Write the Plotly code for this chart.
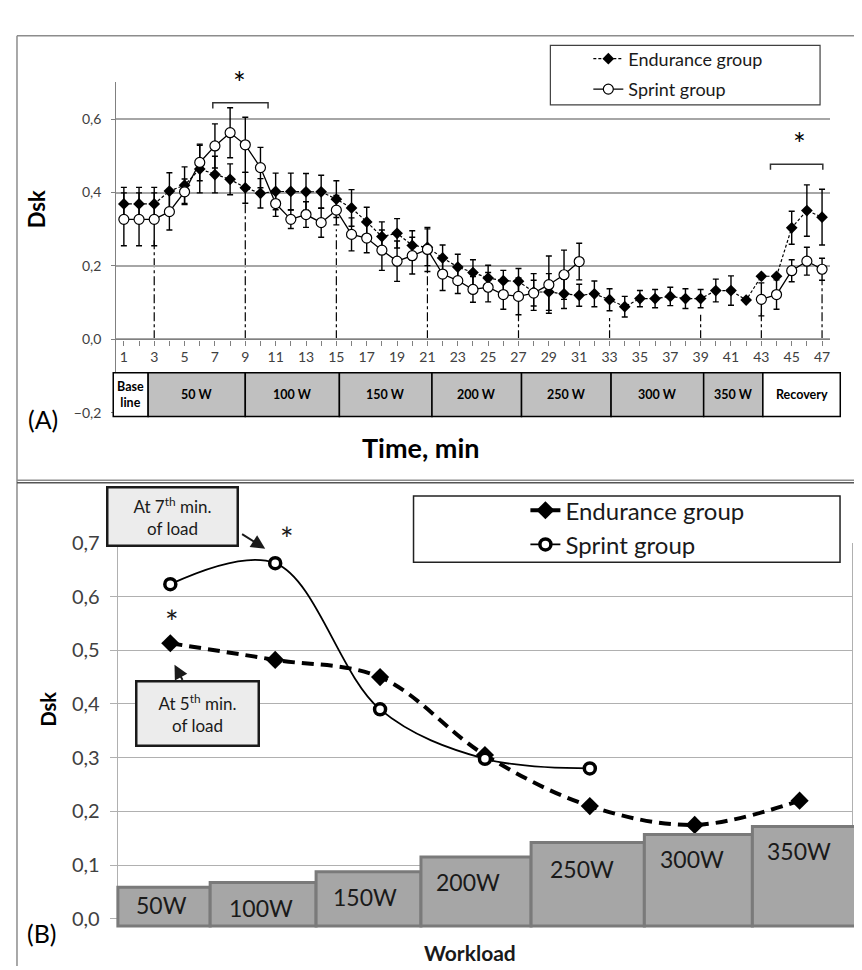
import plotly.graph_objects as go

W, H = 862, 970
FONT = "Lato, 'Open Sans', sans-serif"

# ---------------- Panel A data ----------------
minutes = list(range(1, 48))
endurance_A = [0.369, 0.369, 0.369, 0.404, 0.420, 0.464, 0.449, 0.436, 0.413, 0.398,
               0.403, 0.403, 0.402, 0.402, 0.382, 0.358, 0.320, 0.280, 0.289, 0.256,
               0.251, 0.222, 0.197, 0.182, 0.167, 0.160, 0.158, 0.129, 0.129, 0.124,
               0.120, 0.124, 0.108, 0.089, 0.111, 0.111, 0.117, 0.111, 0.111, 0.133,
               0.133, 0.107, 0.172, 0.172, 0.304, 0.351, 0.333]
endurance_A_err = [0.045, 0.045, 0.045, 0.050, 0.050, 0.065, 0.050, 0.042, 0.042, 0.040,
                   0.050, 0.050, 0.050, 0.045, 0.050, 0.050, 0.040, 0.040, 0.040, 0.040,
                   0.050, 0.035, 0.035, 0.035, 0.035, 0.028, 0.035, 0.050, 0.050, 0.040,
                   0.030, 0.035, 0.030, 0.028, 0.022, 0.025, 0.025, 0.027, 0.025, 0.031,
                   0.040, 0.0, 0.0, 0.0, 0.045, 0.070, 0.076]
sprint_A = [0.327, 0.327, 0.327, 0.348, 0.402, 0.482, 0.527, 0.563, 0.530, 0.468,
            0.370, 0.327, 0.340, 0.318, 0.352, 0.286, 0.276, 0.243, 0.213, 0.228,
            0.245, 0.178, 0.160, 0.136, 0.142, 0.122, 0.117, 0.126, 0.149, 0.176,
            0.212, None, None, None, None, None, None, None, None, None,
            None, None, 0.109, 0.122, 0.187, 0.213, 0.191]
sprint_A_err = [0.072, 0.072, 0.072, 0.050, 0.035, 0.050, 0.060, 0.068, 0.075, 0.055,
                0.035, 0.025, 0.035, 0.040, 0.040, 0.045, 0.040, 0.055, 0.055, 0.050,
                0.060, 0.045, 0.035, 0.035, 0.040, 0.040, 0.050, 0.035, 0.078, 0.067,
                0.050, None, None, None, None, None, None, None, None, None,
                None, None, 0.045, 0.040, 0.030, 0.038, 0.030]
guide_minutes = [3, 9, 15, 21, 27, 33, 39, 43, 47]
guide_tops = [0.270, 0.373, 0.300, 0.187, 0.071, 0.058, 0.067, 0.071, 0.160]
stage_labels_A = ["Base<br>line", "50 W", "100 W", "150 W", "200 W", "250 W",
                  "300 W", "350 W", "Recovery"]
stage_edges_A = [0.3, 2.6, 9.0, 15.2, 21.3, 27.2, 33.1, 39.2, 43.1, 48.2]
stage_fill_A = ["white", "#c0c0c0", "#c0c0c0", "#c0c0c0", "#c0c0c0", "#c0c0c0",
                "#c0c0c0", "#c0c0c0", "white"]
yticks_A = [-0.2, 0.0, 0.2, 0.4, 0.6]

# ---------------- Panel B data ----------------
workloads = ["50W", "100W", "150W", "200W", "250W", "300W", "350W"]
endurance_B = [0.513, 0.482, 0.450, 0.305, 0.210, 0.175, 0.220]
sprint_B = [0.623, 0.662, 0.390, 0.298, 0.280]
load_bar_tops = [0.059, 0.068, 0.088, 0.115, 0.142, 0.157, 0.172]
load_bar_edges = [-0.5, 0.38, 1.39, 2.39, 3.44, 4.52, 5.55, 6.62]
load_label_pos = [(-0.08, 0.025), (0.86, 0.020), (1.86, 0.040), (2.84, 0.068),
                  (3.93, 0.092), (4.97, 0.112), (5.99, 0.126)]
yticks_B = [0.0, 0.1, 0.2, 0.3, 0.4, 0.5, 0.6, 0.7]

# ---------------- geometry ----------------
def px(x):
    return x / W

def py(y):
    return 1 - y / H

XA = [0.5, 47.5]
YA = [-0.2, 0.7]
domA_x = [px(108.4), px(822.6)]
domA_y = [py(401.7), py(63)]
XB = [-0.5, 6.5]
YB = [0.0, 0.7]
domB_x = [px(110), px(845)]
domB_y = [py(920.7), py(535)]
axisA_pos = domA_y[0] + (0 - YA[0]) / (YA[1] - YA[0]) * (domA_y[1] - domA_y[0])

def xa_dom(v):
    return (v - XA[0]) / (XA[1] - XA[0])

def ya_dom(v):
    return (v - YA[0]) / (YA[1] - YA[0])

def xb_dom(v):
    return (v - XB[0]) / (XB[1] - XB[0])

def yb_dom(v):
    return (v - YB[0]) / (YB[1] - YB[0])

fig = go.Figure()

# ---------------- Panel A traces ----------------
fig.add_trace(go.Scatter(
    x=minutes, y=endurance_A, name="Endurance group", mode="lines+markers",
    xaxis="x", yaxis="y", legend="legend", legendgroup="eA",
    line=dict(color="black", width=1.2, dash="3px,2px"),
    marker=dict(symbol="diamond", size=9, color="black"),
    error_y=dict(type="data", array=endurance_A_err, color="black", thickness=1.4, width=3),
))
fig.add_trace(go.Scatter(
    x=minutes, y=sprint_A, name="Sprint group", mode="lines+markers",
    xaxis="x", yaxis="y", legend="legend", legendgroup="sA", connectgaps=False,
    line=dict(color="black", width=1.3),
    marker=dict(symbol="circle", size=10, color="white", line=dict(color="black", width=1.2)),
    error_y=dict(type="data", array=sprint_A_err, color="black", thickness=1.4, width=3),
))

# ---------------- Panel B traces ----------------
idx_B = list(range(len(workloads)))
fig.add_trace(go.Scatter(
    x=idx_B, y=endurance_B, name="Endurance group", mode="lines+markers",
    xaxis="x2", yaxis="y2", legend="legend2", legendgroup="eB",
    line=dict(color="black", width=4, dash="12px,7px", shape="spline", smoothing=1.0),
    marker=dict(symbol="diamond", size=14, color="black"),
))
fig.add_trace(go.Scatter(
    x=idx_B[:len(sprint_B)], y=sprint_B, name="Sprint group", mode="lines+markers",
    xaxis="x2", yaxis="y2", legend="legend2", legendgroup="sB",
    line=dict(color="black", width=1.8, shape="spline", smoothing=1.0),
    marker=dict(symbol="circle", size=11, color="white", line=dict(color="black", width=3.5)),
))

shapes = []
annotations = []


def note(**kw):
    kw.setdefault("xanchor", "center")
    kw.setdefault("yanchor", "middle")
    kw.setdefault("showarrow", False)
    annotations.append(kw)


# guide lines (dash-dot) in panel A
for gx, gt in zip(guide_minutes, guide_tops):
    shapes.append(dict(type="line", xref="x", yref="y", x0=gx, x1=gx, y0=0, y1=gt,
                       line=dict(color="black", width=1.2, dash="dashdot"), layer="below"))

# stage boxes in panel A
for i, lab in enumerate(stage_labels_A):
    x0, x1 = stage_edges_A[i], stage_edges_A[i + 1]
    shapes.append(dict(type="rect", xref="x domain", yref="y domain",
                       x0=xa_dom(x0), x1=xa_dom(x1), y0=ya_dom(-0.21), y1=ya_dom(-0.091),
                       fillcolor=stage_fill_A[i], line=dict(color="black", width=1.5)))
    note(xref="x domain", yref="y domain", x=xa_dom((x0 + x1) / 2), y=ya_dom(-0.15),
         text="<b>%s</b>" % lab, font=dict(family=FONT, size=12.5, color="black"))

# significance brackets panel A
shapes.append(dict(type="path", xref="x", yref="y",
                   path="M 6.86,0.629 L 6.86,0.645 L 10.5,0.645 L 10.5,0.629",
                   line=dict(color="#333333", width=1.5)))
shapes.append(dict(type="path", xref="x", yref="y",
                   path="M 43.6,0.462 L 43.6,0.477 L 47.05,0.477 L 47.05,0.462",
                   line=dict(color="#333333", width=1.5)))
note(xref="x domain", yref="y domain", x=xa_dom(8.6), y=ya_dom(0.700), text="*",
     font=dict(family=FONT, size=30, color="black"))
note(xref="x domain", yref="y domain", x=xa_dom(45.5), y=ya_dom(0.536), text="*",
     font=dict(family=FONT, size=30, color="black"))

# legend frame panel A
shapes.append(dict(type="rect", xref="paper", yref="paper", x0=px(543), x1=px(813),
                   y0=py(86), y1=py(25), line=dict(color="#404040", width=1.2),
                   fillcolor="white"))

# load bars panel B
for i, w in enumerate(workloads):
    x0, x1 = load_bar_edges[i], load_bar_edges[i + 1]
    shapes.append(dict(type="rect", xref="x2 domain", yref="y2 domain",
                       x0=xb_dom(x0), x1=xb_dom(x1), y0=yb_dom(-0.013), y1=yb_dom(load_bar_tops[i]),
                       fillcolor="#a6a6a6", line=dict(color="#7a7a7a", width=3)))
    lx, ly = load_label_pos[i]
    note(xref="x2 domain", yref="y2 domain", x=xb_dom(lx), y=yb_dom(ly), text=w,
         font=dict(family=FONT, size=23, color="#1a1a1a"))

# legend frame panel B
shapes.append(dict(type="rect", xref="paper", yref="paper", x0=px(406), x1=px(833),
                   y0=py(555), y1=py(487), line=dict(color="#222222", width=1.5),
                   fillcolor="white"))

# panel frames
shapes.append(dict(type="line", xref="paper", yref="paper", x0=px(9), x1=1.0, y0=py(15), y1=py(15),
                   line=dict(color="#8c8c8c", width=1.5)))
shapes.append(dict(type="line", xref="paper", yref="paper", x0=px(9), x1=px(9), y0=py(969), y1=py(15),
                   line=dict(color="#8c8c8c", width=1.5)))
shapes.append(dict(type="line", xref="paper", yref="paper", x0=px(9), x1=1.0, y0=py(471), y1=py(471),
                   line=dict(color="#8c8c8c", width=1.5)))
shapes.append(dict(type="line", xref="paper", yref="paper", x0=px(9), x1=1.0, y0=py(473.5), y1=py(473.5),
                   line=dict(color="#555555", width=1.5)))

# panel B annotation boxes and arrows
note(xref="x2 domain", yref="y2 domain", x=xb_dom(0.02), y=yb_dom(0.749),
     text="At 7<sup>th</sup> min.<br>of load",
     width=126, height=54, bgcolor="#ececec", bordercolor="#1a1a1a",
     borderwidth=2.5, borderpad=1, font=dict(family=FONT, size=17, color="#1a1a1a"))
note(xref="x2", yref="y2", x=0.905, y=0.689, ax=0.67, ay=0.718,
     axref="x2", ayref="y2", text="", showarrow=True,
     arrowhead=2, arrowsize=1.4, arrowwidth=2, arrowcolor="#1a1a1a")
note(xref="x2 domain", yref="y2 domain", x=xb_dom(0.257), y=yb_dom(0.382),
     text="At 5<sup>th</sup> min.<br>of load",
     width=118, height=60, bgcolor="#ececec", bordercolor="#1a1a1a",
     borderwidth=2.5, borderpad=1, font=dict(family=FONT, size=17, color="#1a1a1a"))
note(xref="x2", yref="y2", x=0.04, y=0.473, ax=0.124, ay=0.442,
     axref="x2", ayref="y2", text="", showarrow=True,
     arrowhead=2, arrowsize=1.4, arrowwidth=2, arrowcolor="#1a1a1a")
note(xref="x2 domain", yref="y2 domain", x=xb_dom(1.11), y=yb_dom(0.708), text="*",
     font=dict(family=FONT, size=32, color="#1a1a1a"))
note(xref="x2 domain", yref="y2 domain", x=xb_dom(0.02), y=yb_dom(0.553), text="*",
     font=dict(family=FONT, size=32, color="#1a1a1a"))

# titles / labels
note(xref="paper", yref="paper", x=px(28), y=py(193), text="<b>Dsk</b>", textangle=-90,
     font=dict(family=FONT, size=22, color="black"))
note(xref="paper", yref="paper", x=px(413), y=py(437), text="<b>Time, min</b>",
     font=dict(family=FONT, size=27, color="black"))
note(xref="paper", yref="paper", x=px(35), y=py(408), text="(A)",
     font=dict(family=FONT, size=25, color="black"))
note(xref="paper", yref="paper", x=px(40), y=py(705), text="<b>Dsk</b>", textangle=-90,
     font=dict(family=FONT, size=20, color="black"))
note(xref="paper", yref="paper", x=px(463), y=py(955), text="<b>Workload</b>",
     font=dict(family=FONT, size=21, color="#1a1a1a"))
note(xref="paper", yref="paper", x=px(34), y=py(935), text="(B)",
     font=dict(family=FONT, size=25, color="black"))

fig.update_layout(
    width=W, height=H,
    margin=dict(l=0, r=0, t=0, b=0),
    paper_bgcolor="white", plot_bgcolor="white",
    separators=", ",
    font=dict(family=FONT, color="#404040"),
    shapes=shapes, annotations=annotations,
    xaxis=dict(domain=domA_x, range=XA, anchor="free", position=axisA_pos,
               tickmode="linear", tick0=1, dtick=2, ticks="outside", ticklen=5,
               tickcolor="#808080", showline=True, linecolor="#808080", linewidth=1.3,
               showgrid=False, zeroline=False,
               minor=dict(dtick=1, tick0=0, ticks="outside", ticklen=5, tickcolor="#808080",
                          showgrid=False),
               tickfont=dict(family=FONT, size=14, color="#404040")),
    yaxis=dict(domain=domA_y, range=YA, anchor="x", tickmode="array", tickvals=yticks_A,
               tickformat=".1f", ticks="outside", ticklen=4, tickcolor="#808080",
               ticklabelstandoff=7,
               showline=True, linecolor="#808080", linewidth=1.3,
               showgrid=True, gridcolor="#a6a6a6", gridwidth=1.5, zeroline=False,
               tickfont=dict(family=FONT, size=14, color="#404040")),
    xaxis2=dict(domain=domB_x, range=XB, anchor="y2", showticklabels=False, ticks="",
                showgrid=False, zeroline=False, showline=False),
    yaxis2=dict(domain=domB_y, range=YB, anchor="x2", tickmode="array", tickvals=yticks_B,
                tickformat=".1f", ticks="outside", ticklen=7, tickcolor="#b0b0b0",
                ticklabelstandoff=6,
                showline=True, mirror=True, linecolor="#b0b0b0", linewidth=1.3,
                showgrid=True, gridcolor="#b0b0b0", gridwidth=1.3, zeroline=False,
                tickfont=dict(family=FONT, size=20, color="#404040")),
    legend=dict(x=px(581), y=py(20), xanchor="left", yanchor="top",
                bgcolor="rgba(0,0,0,0)", borderwidth=0, tracegroupgap=4,
                font=dict(family=FONT, size=18, color="#1a1a1a"), itemwidth=30),
    legend2=dict(x=px(518), y=py(479), xanchor="left", yanchor="top",
                 bgcolor="rgba(0,0,0,0)", borderwidth=0, tracegroupgap=0,
                 font=dict(family=FONT, size=24, color="#1a1a1a"), itemwidth=30),
    showlegend=True,
)

fig.write_html("out.html")
